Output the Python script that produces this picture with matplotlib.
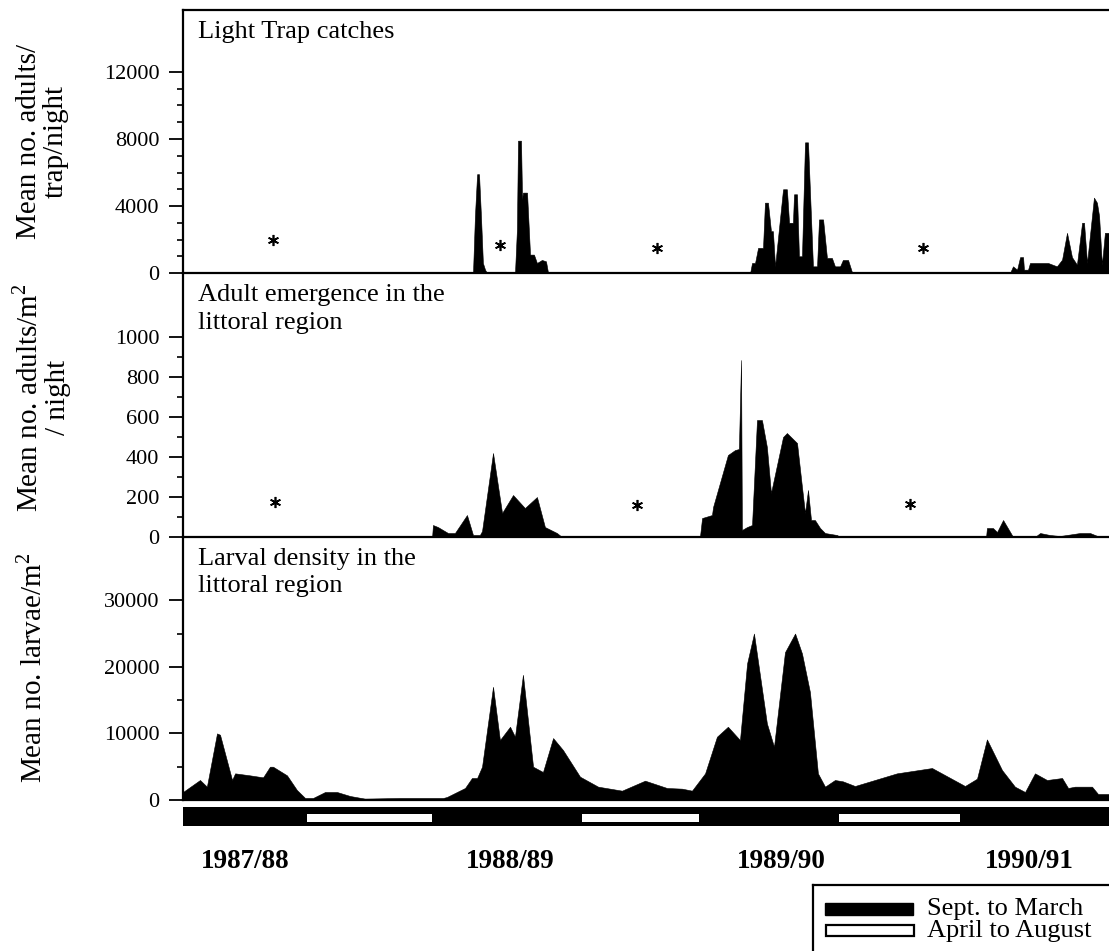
import matplotlib
matplotlib.use("Agg")
import matplotlib.pyplot as plt
import matplotlib.transforms as mtransforms
from matplotlib.patches import Rectangle

plt.rcParams['font.family'] = ['Liberation Serif', 'DejaVu Serif']
plt.rcParams['mathtext.fontset'] = 'custom'
plt.rcParams['mathtext.rm'] = 'Liberation Serif'

# time axis: months from the start of the record (Sept. 1987)
XMAX = 43.01

# light trap catches (mean no. adults/trap/night)
trap_x = [0, 13.47, 13.56, 13.66, 13.75, 13.84, 13.93, 14.03, 14.12,
          15.42, 15.51, 15.56, 15.70, 15.75, 15.79, 15.98, 16.12, 16.30, 16.44, 16.67, 16.86, 16.95, 17.19,
          26.34, 26.43, 26.57, 26.71, 26.94, 27.03, 27.17, 27.31, 27.40, 27.50, 27.87, 28.05, 28.15, 28.33,
          28.38, 28.52, 28.61, 28.75, 28.89, 29.03, 29.26, 29.45, 29.54, 29.73, 29.91, 30.14, 30.28, 30.52,
          30.65, 30.89, 31.07, 31.21,
          38.41, 38.55, 38.74, 38.88, 39.02, 39.06, 39.25, 39.34, 40.18, 40.59, 40.83, 41.06, 41.29, 41.52,
          41.76, 41.85, 41.99, 42.31, 42.45, 42.55, 42.68, 42.82, 43.01]
trap_y = [0, 0, 3400, 5900, 5900, 3400, 600, 200, 0,
          0, 2600, 7900, 7900, 4400, 4800, 4800, 1100, 1100, 600, 780, 700, 60, 0,
          0, 600, 600, 1500, 1500, 4200, 4200, 2500, 2500, 400, 5000, 5000, 3000, 3000,
          4700, 4700, 1000, 1000, 7800, 7800, 400, 400, 3200, 3200, 900, 900, 400, 400,
          780, 780, 60, 0,
          0, 400, 200, 950, 950, 200, 200, 600, 600, 400, 800, 2400, 950, 500,
          3000, 3000, 600, 4500, 4200, 3400, 500, 2400, 2400]

# adult emergence in the littoral region (mean no. adults/m2/night)
emerg_x = [0, 11.57, 11.61, 11.84, 12.31, 12.63, 13.19, 13.47, 13.79, 13.89, 14.40, 14.82, 15.33, 15.88,
           16.44, 16.81, 17.37, 17.60,
           24.01, 24.11, 24.57, 24.62, 25.31, 25.64, 25.82, 25.92, 25.96, 26.20, 26.43, 26.66, 26.89, 27.12,
           27.31, 27.87, 28.05, 28.52, 28.75, 28.89, 29.03, 29.17, 29.35, 29.59, 29.82, 30.38, 30.52,
           37.30, 37.34, 37.62, 37.81, 38.09, 38.50, 38.55, 39.57, 39.81, 40.27, 40.73, 41.66, 42.13,
           42.59, 43.01]
emerg_y = [0, 0, 60, 50, 20, 20, 110, 10, 10, 30, 420, 120, 210, 145,
           200, 50, 20, 0,
           0, 95, 110, 150, 410, 435, 440, 885, 35, 50, 60, 585, 585, 450,
           220, 500, 520, 470, 250, 120, 235, 85, 85, 45, 20, 10, 0,
           0, 45, 45, 25, 85, 10, 0, 0, 20, 10, 5, 20, 20,
           0, 0]

# larval density in the littoral region (mean no. larvae/m2)
larva_x = [0.00, 0.79, 1.11, 1.58, 1.72, 2.28, 2.42, 3.11, 3.72, 4.04, 4.18, 4.83, 5.29, 5.67, 6.04,
           6.60, 7.15, 7.76, 8.45, 10.08, 12.08, 12.26, 13.10, 13.42, 13.66, 13.89, 14.40, 14.72, 15.19,
           15.42, 15.79, 16.26, 16.72, 17.19, 17.65, 18.44, 19.28, 20.39, 21.46, 22.48, 23.18, 23.64,
           24.25, 24.80, 25.31, 25.87, 26.20, 26.52, 27.12, 27.45, 27.96, 28.43, 28.75, 29.12, 29.49,
           29.82, 30.28, 30.65, 31.21, 33.16, 34.79, 36.32, 36.88, 37.34, 38.04, 38.64, 39.11, 39.57,
           40.13, 40.83, 41.11, 41.43, 42.22, 42.50, 43.01]
larva_y = [1200, 3000, 2000, 10000, 9800, 3000, 4000, 3700, 3400, 5000, 5000, 3700, 1500, 300, 300,
           1200, 1200, 600, 200, 300, 300, 450, 1800, 3300, 3300, 5000, 17000, 9000, 11000,
           9500, 18800, 5000, 4200, 9300, 7500, 3500, 2000, 1400, 2900, 1800, 1700, 1400,
           4000, 9500, 11000, 9000, 20500, 25000, 11500, 8000, 22200, 25000, 22000, 16200, 4000,
           2000, 3000, 2800, 2100, 4000, 4800, 2100, 3200, 9100, 4500, 2000, 1200, 4000,
           3000, 3300, 1800, 2000, 2000, 900, 900]

# asterisks (no sampling)
trap_star_x = [4.18, 14.72, 22.02, 34.37]
trap_star_y = [1970, 1680, 1500, 1500]
emerg_star_x = [4.27, 21.09, 33.77]
emerg_star_y = [175, 160, 165]

# seasons bar
season_start = [0, 5.76, 11.57, 18.53, 23.97, 30.47, 36.09]
season_end = [5.76, 11.57, 18.53, 23.97, 30.47, 36.09, XMAX]
season_kind = ['Sept. to March', 'April to August', 'Sept. to March', 'April to August',
               'Sept. to March', 'April to August', 'Sept. to March']

year_labels = ['1987/88', '1988/89', '1989/90', '1990/91']
year_pos = [2.9, 15.2, 27.8, 39.3]

fig = plt.figure(figsize=(11.09, 9.51), dpi=100)

left, width = 0.165, 0.835
ax1 = fig.add_axes([left, 0.7129, width, 0.2766])
ax2 = fig.add_axes([left, 0.4353, width, 0.2776])
ax3 = fig.add_axes([left, 0.1588, width, 0.2765])
axb = fig.add_axes([left, 0.1314, width, 0.0200])

panels = [
    (ax1, trap_x, trap_y, 15700, [0, 4000, 8000, 12000], range(1000, 12000, 1000),
     'Light Trap catches'),
    (ax2, emerg_x, emerg_y, 1320, [0, 200, 400, 600, 800, 1000], range(100, 1000, 100),
     'Adult emergence in the\nlittoral region'),
    (ax3, larva_x, larva_y, 39500, [0, 10000, 20000, 30000], [5000, 15000, 25000],
     'Larval density in the\nlittoral region'),
]

for ax, x, y, ytop, majors, minors, title in panels:
    ax.fill_between(x, y, 0, color='black', linewidth=0.4)
    ax.set_xlim(0, XMAX)
    ax.set_ylim(0, ytop)
    ax.set_yticks(majors)
    ax.set_yticks(list(minors), minor=True)
    ax.set_xticks([])
    ax.tick_params(axis='y', which='major', length=10, width=1.3, pad=7, labelsize=16)
    ax.tick_params(axis='y', which='minor', length=4, width=1.2)
    for s in ['left', 'bottom', 'top']:
        ax.spines[s].set_linewidth(1.6)
    ax.spines['right'].set_visible(False)
    if ax is not ax1:
        ax.spines['top'].set_visible(False)
    ax.patch.set_alpha(0)
    ax.text(0.016, 0.96, title, transform=ax.transAxes, ha='left', va='top',
            fontsize=19, linespacing=1.35)

fig.text(0.038, 0.851, 'Mean no. adults/\ntrap/night', rotation=90, ha='center', va='center',
         fontsize=21, multialignment='center', linespacing=1.05)
fig.text(0.038, 0.582, 'Mean no. adults/m$^\\mathregular{2}$\n/ night', rotation=90,
         ha='center', va='center', fontsize=21, multialignment='center', linespacing=1.05)
fig.text(0.029, 0.298, 'Mean no. larvae/m$^\\mathregular{2}$', rotation=90, ha='center',
         va='center', fontsize=21)

for sx, sy in zip(trap_star_x, trap_star_y):
    ax1.plot(sx, sy, marker=(6, 2, 0), ms=8, mew=1.2, color='black', linestyle='none')
for sx, sy in zip(emerg_star_x, emerg_star_y):
    ax2.plot(sx, sy, marker=(6, 2, 0), ms=8, mew=1.2, color='black', linestyle='none')

# season bar
axb.set_xlim(0, XMAX)
axb.set_ylim(0, 1)
for s0, s1, kind in zip(season_start, season_end, season_kind):
    axb.barh(0.5, s1 - s0, left=s0, height=1.0, color='black', linewidth=0)
    if kind == 'April to August':
        axb.barh(0.42, s1 - s0, left=s0, height=0.46, color='white', linewidth=0)
axb.axis('off')

trans = mtransforms.blended_transform_factory(axb.transData, fig.transFigure)
for lab, xp in zip(year_labels, year_pos):
    axb.text(xp, 0.0936, lab, transform=trans, ha='center', va='center',
             fontsize=19.5, fontweight='bold')

# legend box, cut by the figure edge like the original
axl = fig.add_axes([0.733, -0.02, 0.29, 0.0894])
axl.set_xlim(0, 1)
axl.set_ylim(0, 1)
axl.set_xticks([])
axl.set_yticks([])
for s in axl.spines.values():
    s.set_linewidth(1.6)
axl.add_patch(Rectangle((0.037, 0.647), 0.274, 0.141, facecolor='black', edgecolor='black'))
axl.add_patch(Rectangle((0.040, 0.395), 0.274, 0.130, facecolor='white', edgecolor='black',
                        linewidth=1.6))
axl.text(0.354, 0.718, 'Sept. to March', ha='left', va='center', fontsize=19)
axl.text(0.354, 0.459, 'April to August', ha='left', va='center', fontsize=19)

fig.savefig('out.png', dpi=100)
